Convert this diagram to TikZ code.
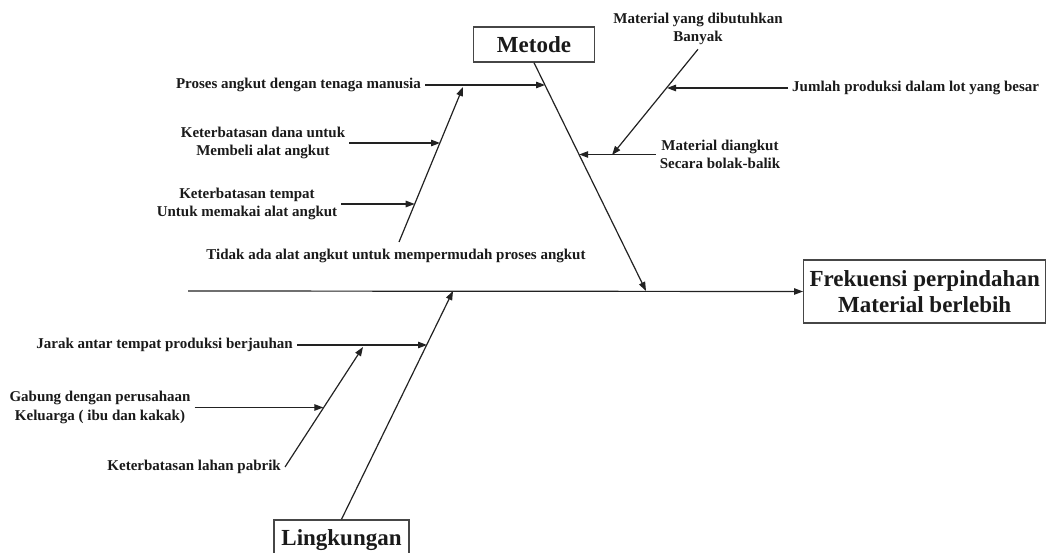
\documentclass[tikz,border=0pt]{standalone}
\usepackage{fontspec}
\setmainfont{Liberation Serif}
\usetikzlibrary{arrows.meta}
\definecolor{linec}{RGB}{34,34,34}
\definecolor{boxc}{RGB}{70,70,70}
\definecolor{txt}{RGB}{26,26,26}
\begin{document}
\begin{tikzpicture}[x=1pt,y=-1pt,
  bone/.style={draw=linec, line width=1.2pt, -{Triangle[length=9pt,width=6.5pt]}},
  cause/.style={font=\bfseries\fontsize{15}{18.5}\selectfont, text=txt, align=center, inner sep=4pt},
  head/.style={draw=boxc, line width=1.4pt, font=\bfseries\fontsize{23}{26}\selectfont, text=txt, align=center, fill=white}]
\useasboundingbox (0,0) rectangle (1049,553);

% category boxes and effect
\node[head, minimum width=121pt, minimum height=35pt] (metode) at (534,44.5) {Metode};
\node[head, minimum width=242pt, minimum height=63pt, anchor=west] (effect) at (803,291.5) {Frekuensi perpindahan\\Material berlebih};
\node[head, minimum width=135pt, minimum height=40pt] (lingk) at (341.5,540) {Lingkungan};

% causes
\node[cause, anchor=east] (proses) at (425,85) {Proses angkut dengan tenaga manusia};
\node[cause] (dana) at (263,143) {Keterbatasan dana untuk\\Membeli alat angkut};
\node[cause] (tempat) at (247,204) {Keterbatasan tempat\\Untuk memakai alat angkut};
\node[cause] (tidak) at (396,256) {Tidak ada alat angkut untuk mempermudah proses angkut};
\node[cause] (banyak) at (698,29) {Material yang dibutuhkan\\Banyak};
\node[cause, anchor=west] (jumlah) at (788,88) {Jumlah produksi dalam lot yang besar};
\node[cause] (diangkut) at (720,154.5) {Material diangkut\\Secara bolak-balik};
\node[cause, anchor=east] (jarak) at (297,345) {Jarak antar tempat produksi berjauhan};
\node[cause] (gabung) at (100,407.5) {Gabung dengan perusahaan\\Keluarga ( ibu dan kakak)};
\node[cause, anchor=east] (lahan) at (285,467) {Keterbatasan lahan pabrik};

% points on the bones
\coordinate (spineL) at (188,291);
\coordinate (m0) at (646,291);
\coordinate (l0) at (453,291);
\coordinate (a1) at (545,85);
\coordinate (s1b) at (399,242);
\coordinate (s1t) at (463,87);
\coordinate (a2) at (440,143);
\coordinate (a3) at (414.7,204);
\coordinate (r1t) at (612,155);
\coordinate (b1) at (667,88);
\coordinate (b2) at (579.2,154.5);
\coordinate (c1) at (427,345);
\coordinate (s3t) at (363,347);
\coordinate (c2) at (323.3,407.5);

% spine
\draw[bone] (spineL) -- (effect.west);

% Metode branch
\draw[bone] (metode.south) -- (m0);
\draw[bone] (proses.east) -- (a1);
\draw[bone] (s1b) -- (s1t);
\draw[bone] (dana.east) -- (a2);
\draw[bone] (tempat.east) -- (a3);
\draw[bone] (banyak.south) -- (r1t);
\draw[bone] (jumlah.west) -- (b1);
\draw[bone] (diangkut.west) -- (b2);

% Lingkungan branch
\draw[bone] (lingk.north) -- (l0);
\draw[bone] (jarak.east) -- (c1);
\draw[bone] (lahan.east) -- (s3t);
\draw[bone] (gabung.east) -- (c2);
\end{tikzpicture}
\end{document}
